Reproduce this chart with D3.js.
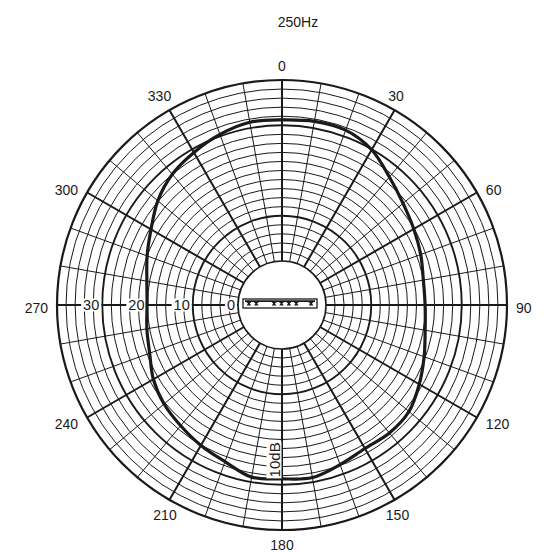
<!DOCTYPE html>
<html>
<head>
<meta charset="utf-8">
<script src="https://cdn.jsdelivr.net/npm/d3@7"></script>
<style>
  html, body { margin: 0; padding: 0; background: #fff; }
  svg { display: block; }
  text { font-family: "Liberation Sans", Arial, Helvetica, sans-serif; fill: #1a1a1a; }
</style>
</head>
<body>
<svg id="chart" width="547" height="552"></svg>
<script>
// ---- data ----
const title = "250Hz";
const angleLabels = [0, 30, 60, 90, 120, 150, 180, 210, 240, 270, 300, 330];
const dbTickLabels = [0, 10, 20, 30];
const scaleBarLabel = "10dB";
const responseAngles = [0, 10, 20, 30, 40, 50, 60, 70, 80, 90, 100, 110, 120, 130, 140, 150, 160, 170,
                        180, 190, 200, 210, 220, 230, 240, 250, 260, 270, 280, 290, 300, 310, 320, 330, 340, 350];
const responseDb = [31.2, 31.5, 31.4, 29.9, 27.2, 25.2, 23.9, 22.9, 22.0, 21.9, 22.4, 23.7, 25.3, 26.9, 27.2, 26.9, 27.8, 29.0,
                    28.7, 28.9, 27.1, 26.1, 25.1, 24.3, 23.1, 21.4, 20.6, 20.1, 20.6, 22.0, 23.7, 26.1, 28.0, 29.2, 30.4, 31.3];
const micMarks = [0.08, 0.18, 0.42, 0.52, 0.62, 0.72, 0.92]; // relative positions of elements along the mic bar

// ---- layout ----
const svg = d3.select("#chart");
const cx = 282, cy = 305;
const dbMax = 40;
const r = d3.scaleLinear().domain([0, dbMax]).range([44, 225]);
const R = r(dbMax);
const ink = "#1a1a1a";

const g = svg.append("g").attr("transform", `translate(${cx},${cy})`);

// rings
const ringDbs = d3.range(2, dbMax, 2);
g.selectAll("circle.ring").data(ringDbs).join("circle")
  .attr("class", "ring")
  .attr("r", d => r(d))
  .attr("fill", "none")
  .attr("stroke", ink)
  .attr("stroke-width", d => (d === 10 || d === 30) ? 1.9 : 1);

// spokes
const spokeAngles = d3.range(0, 360, 10);
const rad = a => a * Math.PI / 180;
g.selectAll("line.spoke").data(spokeAngles).join("line")
  .attr("class", "spoke")
  .attr("x1", a => r(0) * Math.sin(rad(a)))
  .attr("y1", a => -r(0) * Math.cos(rad(a)))
  .attr("x2", a => R * Math.sin(rad(a)))
  .attr("y2", a => -R * Math.cos(rad(a)))
  .attr("stroke", ink)
  .attr("stroke-width", a => a % 30 === 0 ? 2 : 1);

// outer and inner circles
g.append("circle").attr("r", R).attr("fill", "none").attr("stroke", ink).attr("stroke-width", 2.2);
g.append("circle").attr("r", r(0)).attr("fill", "#fff").attr("stroke", ink).attr("stroke-width", 1.6);

// dB tick labels along the 270 direction
const dbG = g.append("g");
dbTickLabels.forEach(v => {
  const t = dbG.append("text")
    .attr("x", -r(v) - 3)
    .attr("y", 0)
    .attr("dy", "0.36em")
    .attr("text-anchor", "end")
    .attr("font-size", 14.5)
    .text(v);
  const bb = t.node().getBBox();
  dbG.insert("rect", "text")
    .attr("x", bb.x - 2).attr("y", -6.5)
    .attr("width", bb.width + 4).attr("height", 13)
    .attr("fill", "#fff");
});

// response curve
const line = d3.lineRadial()
  .angle((d, i) => rad(responseAngles[i]))
  .radius(d => r(d))
  .curve(d3.curveCatmullRomClosed.alpha(0.5));
g.append("path")
  .attr("d", line(responseDb))
  .attr("fill", "none")
  .attr("stroke", ink)
  .attr("stroke-width", 3.2)
  .attr("stroke-linejoin", "round");

// scale bar label "10dB" along the 180 spoke
const sb = g.append("g").attr("transform", `translate(-2.5, ${r(24.5)}) rotate(-90)`);
const sbt = sb.append("text")
  .attr("text-anchor", "middle")
  .attr("font-size", 15)
  .text(scaleBarLabel);
const sbb = sbt.node().getBBox();
sb.insert("rect", "text")
  .attr("x", sbb.x - 1).attr("y", sbb.y + 1)
  .attr("width", sbb.width + 2).attr("height", sbb.height - 2)
  .attr("fill", "#fff");

// angle labels
const ax = g.append("g");
angleLabels.forEach(a => {
  const ex = R * Math.sin(rad(a)), ey = -R * Math.cos(rad(a));
  const s = Math.sin(rad(a)), c = Math.cos(rad(a));
  let x = ex, y = ey, anchor = "middle";
  if (Math.abs(s) > 0.8) {          // side labels: 60, 90, 120, 240, 270, 300
    anchor = s > 0 ? "start" : "end";
    x = ex + (s > 0 ? 9 : -9);
    y = ey + (Math.abs(c) < 0.1 ? 3 : (c > 0 ? -2.5 : 6.5));
  } else {                          // top/bottom labels
    y = ey + (c > 0 ? -14 : 15);
    if (Math.abs(s) > 0.1) x = ex + (s > 0 ? (c > 0 ? 1.5 : 3) : (c > 0 ? -10 : -4.5));
  }
  ax.append("text")
    .attr("x", x).attr("y", y)
    .attr("dy", "0.36em")
    .attr("text-anchor", anchor)
    .attr("font-size", 14)
    .text(a);
});

// microphone drawing in the centre
const mw = 74, mh = 9;
const mic = g.append("g").attr("transform", `translate(${-mw / 2 - 2}, -6)`);
mic.append("rect").attr("width", mw).attr("height", mh)
  .attr("fill", "#fff").attr("stroke", ink).attr("stroke-width", 1.3);
mic.append("line").attr("x1", 2).attr("x2", mw - 2).attr("y1", 2.2).attr("y2", 2.2)
  .attr("stroke", ink).attr("stroke-width", 1.8);
mic.selectAll("path.mark").data(micMarks).join("path")
  .attr("class", "mark")
  .attr("d", p => {
    const x = p * mw;
    return `M${x - 3.6},2.2 L${x + 3.6},2.2 L${x + 0.8},4.6 L${x + 2.4},6.4 L${x - 2.4},6.4 L${x - 0.8},4.6 Z`;
  })
  .attr("fill", ink);

// title
svg.append("text")
  .attr("x", 298).attr("y", 22)
  .attr("dy", "0.36em")
  .attr("text-anchor", "middle")
  .attr("font-size", 14)
  .text(title);
</script>
</body>
</html>
